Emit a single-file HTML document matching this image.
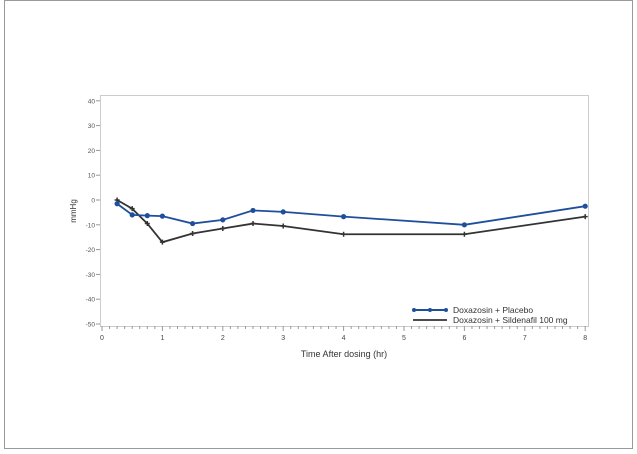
<!DOCTYPE html>
<html><head><meta charset="utf-8"><style>
body{margin:0;background:#fff}
svg{display:block;font-family:"Liberation Sans",sans-serif}
</style></head><body>
<svg width="637" height="454" viewBox="0 0 637 454" xmlns="http://www.w3.org/2000/svg" id="c">
<rect x="4.5" y="0.5" width="628" height="448" fill="none" stroke="#999" stroke-width="1"/>
<rect x="100.5" y="95.5" width="488" height="231" fill="none" stroke="#ccc" stroke-width="1"/>
<g id="axes"></g>
<g id="series"></g>
<text transform="translate(76,211) rotate(-90)" font-size="8" text-anchor="middle" fill="#333">mmHg</text>
<text x="344" y="357" font-size="9" text-anchor="middle" fill="#333">Time After dosing (hr)</text>
<g>
<line x1="413" y1="310" x2="447" y2="310" stroke="#1f4f9c" stroke-width="2"/>
<circle cx="414" cy="310" r="2" fill="#1f4f9c"/><circle cx="430" cy="310" r="2" fill="#1f4f9c"/><circle cx="446" cy="310" r="2" fill="#1f4f9c"/>
<text x="453" y="313" font-size="8.5" fill="#333">Doxazosin + Placebo</text>
<line x1="413" y1="320" x2="447" y2="320" stroke="#333" stroke-width="1.8"/>
<text x="453" y="323" font-size="8.5" fill="#333">Doxazosin + Sildenafil 100 mg</text>
</g>
</svg>
<script>
const times=[0.25,0.5,0.75,1,1.5,2,2.5,3,4,6,8];
const placebo=[-1.5,-6,-6.3,-6.5,-9.5,-8,-4.2,-4.8,-6.7,-10,-2.5];
const sildenafil=[0,-3.5,-9.5,-17,-13.5,-11.5,-9.5,-10.5,-13.8,-13.8,-6.7];
const xTicks=[0,1,2,3,4,5,6,7,8];
const yTicks=[40,30,20,10,0,-10,-20,-30,-40,-50];
const NS="http://www.w3.org/2000/svg";
const xs=v=>102+v*60.4;
const ys=v=>200-v*2.48;
function mk(t,a,p){const e=document.createElementNS(NS,t);for(const k in a)e.setAttribute(k,a[k]);p.appendChild(e);return e;}
const ax=document.getElementById('axes');
yTicks.forEach(v=>{
 const l=mk('line',{x1:96,x2:100,y1:ys(v),y2:ys(v),stroke:'#999'},ax);
 
 
 const t=mk('text',{x:95,y:ys(v)+2.5,'font-size':6.5,'text-anchor':'end',fill:'#555'},ax);
 t.textContent=v;
 
 
});
for(let i=0;i<=64;i++){
 const v=i/8;const major=i%8===0;
 const l=mk('line',{x1:xs(v),x2:xs(v),y1:326,y2:major?331:329,stroke:'#999'},ax);
 
 
}
xTicks.forEach(v=>{
 const t=mk('text',{x:xs(v),y:340,'font-size':7,'text-anchor':'middle',fill:'#444'},ax);
 t.textContent=v;
 
 
});
const sg=document.getElementById('series');
function line(vals,col,name,marker){
 const pts=times.map((t,i)=>xs(t)+','+ys(vals[i])).join(' ');
 const p=mk('polyline',{points:pts,fill:'none',stroke:col,'stroke-width':1.8},sg);
 
 
 times.forEach((t,i)=>{
  let m;
  if(marker==='dot')m=mk('circle',{cx:xs(t),cy:ys(vals[i]),r:2.6,fill:col},sg);
  else m=mk('path',{d:`M${xs(t)-2.5},${ys(vals[i])}h5M${xs(t)},${ys(vals[i])-2.5}v5`,stroke:col,'stroke-width':1.5},sg);
  
  
 });
}
line(sildenafil,'#333','sildenafil','plus');
line(placebo,'#1f4f9c','placebo','dot');
</script>
</body></html>
